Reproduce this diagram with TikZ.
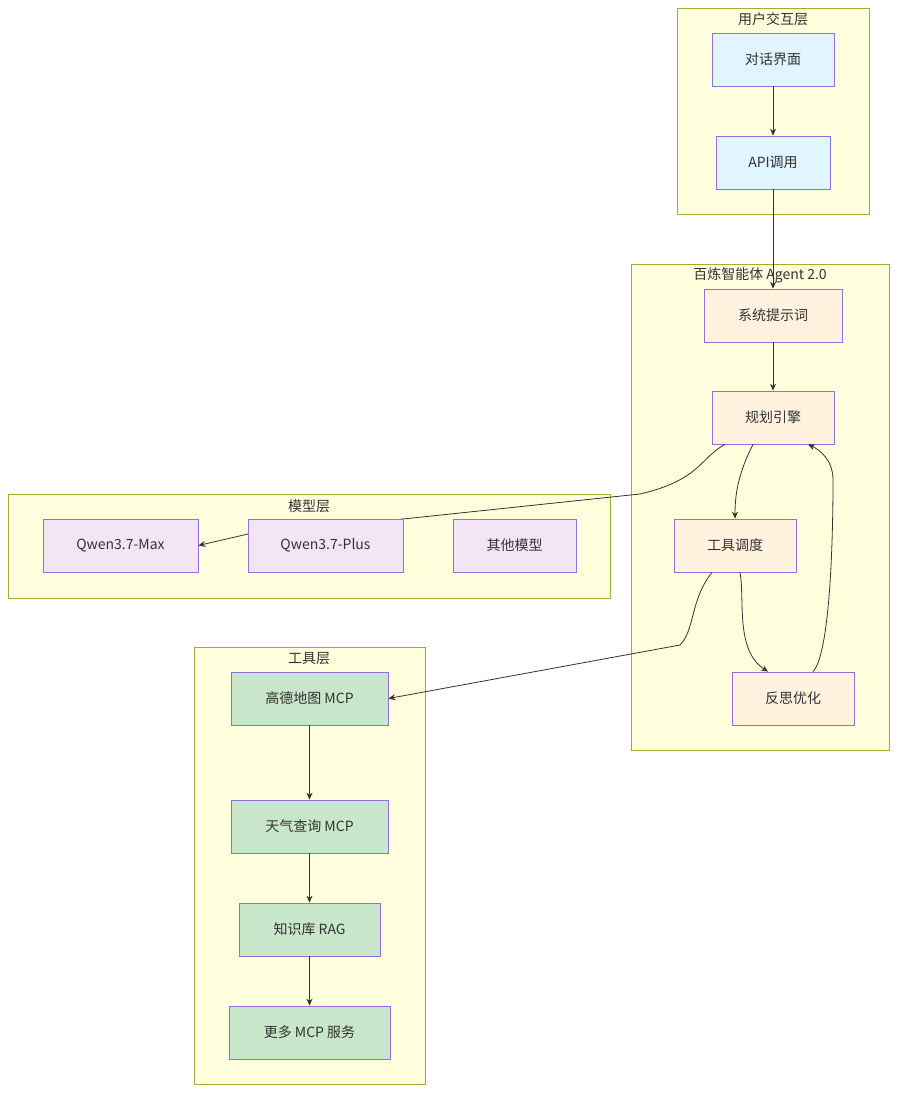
\documentclass[tikz,border=0pt]{standalone}
\usepackage{fontspec}
\setmainfont{Noto Sans CJK SC}
\usetikzlibrary{arrows.meta}
\definecolor{clf}{HTML}{FFFFDE}\definecolor{cls}{HTML}{AAAA33}
\definecolor{nst}{HTML}{9370DB}
\definecolor{blu}{HTML}{E1F5FE}\definecolor{ora}{HTML}{FFF3E0}
\definecolor{pur}{HTML}{F3E5F5}\definecolor{grn}{HTML}{C8E6C9}
\definecolor{edg}{HTML}{333333}
\begin{document}
\begin{tikzpicture}[x=1pt,y=-1pt,font=\fontsize{14}{16}\selectfont,
  clus/.style={draw=cls,fill=clf,line width=0.8pt},
  nbox/.style={draw=nst,line width=0.7pt,inner sep=0pt,text=edg},
  ttl/.style={text=edg,anchor=center},
  arr/.style={draw=edg,line width=0.8pt,-{Stealth[length=7pt,width=6pt]}}]
\useasboundingbox[fill=white] (0,0) rectangle (905,1102);
% clusters
\draw[clus] (677,8) rectangle (869,214); \node[ttl] (t1) at (773,19) {用户交互层};
\draw[clus] (631,264) rectangle (889,750); \node[ttl] (t2) at (760,275) {百炼智能体 Agent 2.0};
\draw[clus] (8,494) rectangle (610,598); \node[ttl] (t3) at (309,506) {模型层};
\draw[clus] (194,647) rectangle (425,1084); \node[ttl] (t4) at (309,659) {工具层};
% nodes
\newcommand{\nb}[7]{\node[nbox,fill=#6,minimum width=#4pt,minimum height=#5pt] (#1) at (#2,#3) {#7};}
\nb{ui}{773}{59.5}{122}{53}{blu}{对话界面}
\nb{api}{773}{162.5}{114}{53}{blu}{API调用}
\nb{sys}{773}{315.5}{138}{53}{ora}{系统提示词}
\nb{plan}{773}{417.5}{122}{53}{ora}{规划引擎}
\nb{tool}{735}{545.5}{122}{53}{ora}{工具调度}
\nb{refl}{793}{698.5}{122}{53}{ora}{反思优化}
\nb{qmax}{120.5}{545.5}{155}{53}{pur}{Qwen3.7-Max}
\nb{oth}{514.5}{545.5}{123}{53}{pur}{其他模型}
\nb{gd}{309.5}{698.5}{157}{53}{grn}{高德地图 MCP}
\nb{wx}{309.5}{826.5}{157}{53}{grn}{天气查询 MCP}
\nb{kb}{309.5}{929.5}{141}{53}{grn}{知识库 RAG}
\nb{more}{309.5}{1032.5}{161}{53}{grn}{更多 MCP 服务}
% edges
\coordinate (pm) at (403,519);
\draw[arr] ([xshift=-48pt]plan.south) .. controls (700,458) and (700,480) .. (640,494) -- (pm) -- (248,534) -- (qmax.east);
\nb{qplus}{325.5}{545.5}{155}{53}{pur}{Qwen3.7-Plus}
\draw[arr] (ui) -- (api);
\draw[arr] (api) -- (sys);
\draw[arr] (sys) -- (plan);
\draw[arr] ([xshift=-20pt]plan.south) .. controls (740,470) and (735,490) .. (tool.north);
\draw[arr] ([xshift=5pt]tool.south) .. controls (745,600) and (735,650) .. ([xshift=-25pt]refl.north);
\draw[arr] ([xshift=20pt]refl.north) .. controls (833,650) and (833,500) .. (833,480) .. controls (833,460) and (820,450) .. ([xshift=35pt]plan.south);
\draw[arr] ([xshift=-23pt]tool.south) .. controls (690,600) and (695,630) .. (680,645) -- (gd.east);
\draw[arr] (gd) -- (wx);
\draw[arr] (wx) -- (kb);
\draw[arr] (kb) -- (more);
\end{tikzpicture}
\end{document}
